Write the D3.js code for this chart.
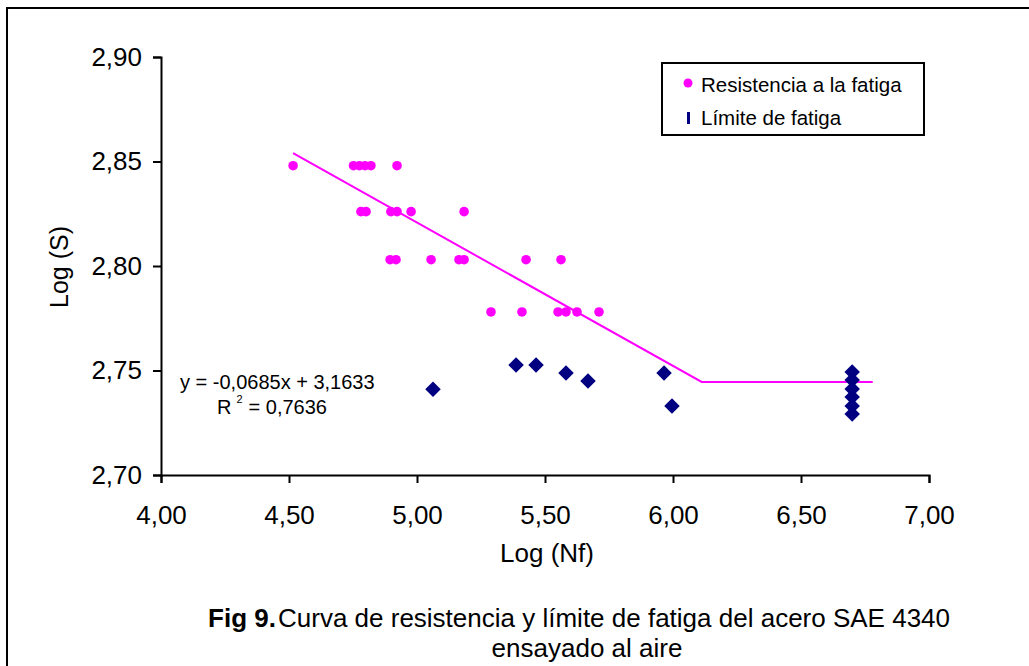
<!DOCTYPE html>
<html lang="es">
<head>
  <meta charset="UTF-8">
  <title>Fig 9</title>
  <script src="https://d3js.org/d3.v7.min.js"></script>
  <style>
    body { margin: 0; background: #fff; }
    text { font-family: Arial, "Liberation Sans", sans-serif; fill: #000; }
  </style>
</head>
<body>
  <script>
    // fatigue strength points (log Nf, log S)
    var resX = [4.516, 4.752, 4.775, 4.797, 4.820, 4.922,
                4.781, 4.801, 4.898, 4.922, 4.977, 5.184,
                4.895, 4.918, 5.055, 5.164, 5.184, 5.426, 5.5625,
                5.289, 5.410, 5.551, 5.582, 5.625, 5.711];
    var resY = [2.848, 2.848, 2.848, 2.848, 2.848, 2.848,
                2.826, 2.826, 2.826, 2.826, 2.826, 2.826,
                2.803, 2.803, 2.803, 2.803, 2.803, 2.803, 2.803,
                2.778, 2.778, 2.778, 2.778, 2.778, 2.778];

    // fatigue limit points
    var limX = [5.0625, 5.387, 5.465, 5.582, 5.668, 5.965, 5.996,
                6.70, 6.70, 6.70, 6.70, 6.70, 6.70];
    var limY = [2.741, 2.7526, 2.7526, 2.7488, 2.745, 2.7488, 2.733,
                2.7493, 2.7455, 2.7411, 2.7373, 2.733, 2.7292];

    // regression line then horizontal limit
    var curveX = [4.516, 6.112, 6.78];
    var curveY = [2.854, 2.7445, 2.7445];

    var xTicks = [4.0, 4.5, 5.0, 5.5, 6.0, 6.5, 7.0];
    var yTicks = [2.70, 2.75, 2.80, 2.85, 2.90];

    var legendLabels = ["Resistencia a la fatiga", "Límite de fatiga"];
    var eqLabel = "y = -0,0685x + 3,1633";
    var r2Label = "= 0,7636";

    var W = 1029, H = 666;
    var fmt = function (d) { return d3.format(".2f")(d).replace(".", ","); };

    var svg = d3.select("body").append("svg")
      .attr("width", W)
      .attr("height", H);

    // outer frame (right and bottom sides fall outside the picture)
    svg.append("rect")
      .attr("x", 7).attr("y", 8)
      .attr("width", 1040).attr("height", 680)
      .attr("fill", "none")
      .attr("stroke", "#000")
      .attr("stroke-width", 2);

    var x = d3.scaleLinear().domain([4, 7]).range([161, 929]);
    var y = d3.scaleLinear().domain([2.70, 2.90]).range([475, 57]);

    var xAxis = svg.append("g")
      .attr("transform", "translate(0,475)")
      .call(d3.axisBottom(x).tickValues(xTicks).tickFormat(fmt).tickSize(8).tickPadding(23));

    var yAxis = svg.append("g")
      .attr("transform", "translate(161,0)")
      .call(d3.axisLeft(y).tickValues(yTicks).tickFormat(fmt).tickSize(8).tickPadding(11));

    [xAxis, yAxis].forEach(function (a) {
      a.select(".domain").attr("stroke", "#000").attr("stroke-width", 2);
      a.selectAll(".tick line").attr("stroke", "#000").attr("stroke-width", 2);
      a.selectAll(".tick text")
        .attr("font-size", "26px")
        .attr("font-family", "Arial, 'Liberation Sans', sans-serif")
        .attr("fill", "#000");
    });

    // axis titles
    svg.append("text")
      .attr("x", 547).attr("y", 562)
      .attr("text-anchor", "middle")
      .attr("font-size", "26px")
      .text("Log (Nf)");

    svg.append("text")
      .attr("transform", "translate(68,267)rotate(-90)")
      .attr("text-anchor", "middle")
      .attr("font-size", "25px")
      .text("Log (S)");

    // trend line
    var line = d3.line()
      .x(function (d) { return x(d[0]); })
      .y(function (d) { return y(d[1]); });

    svg.append("path")
      .datum(d3.zip(curveX, curveY))
      .attr("d", line)
      .attr("fill", "none")
      .attr("stroke", "#FF00FF")
      .attr("stroke-width", 2);

    // fatigue strength dots
    svg.selectAll(".res")
      .data(d3.zip(resX, resY))
      .enter().append("circle")
      .attr("class", "res")
      .attr("cx", function (d) { return x(d[0]); })
      .attr("cy", function (d) { return y(d[1]); })
      .attr("r", 4.8)
      .attr("fill", "#FF00FF");

    // fatigue limit diamonds
    var diamond = d3.symbol().type(d3.symbolSquare).size(120);
    svg.selectAll(".lim")
      .data(d3.zip(limX, limY))
      .enter().append("path")
      .attr("class", "lim")
      .attr("d", diamond)
      .attr("transform", function (d) {
        return "translate(" + x(d[0]) + "," + y(d[1]) + ")rotate(45)";
      })
      .attr("fill", "#000080");

    // equation
    svg.append("text")
      .attr("x", 180).attr("y", 389)
      .attr("font-size", "20px")
      .text(eqLabel);

    var r2 = svg.append("text")
      .attr("x", 217).attr("y", 414)
      .attr("font-size", "20px");
    r2.append("tspan").text("R");
    r2.append("tspan").attr("dx", 5).attr("dy", -11).attr("font-size", "11px").text("2");
    r2.append("tspan").attr("dx", 6).attr("dy", 11).text(r2Label);

    // legend
    var legend = svg.append("g");
    legend.append("rect")
      .attr("x", 662).attr("y", 63)
      .attr("width", 262).attr("height", 72)
      .attr("fill", "#fff")
      .attr("stroke", "#000")
      .attr("stroke-width", 2);

    legend.append("circle")
      .attr("cx", 688).attr("cy", 83)
      .attr("r", 4.5)
      .attr("fill", "#FF00FF");
    legend.append("rect")
      .attr("x", 687).attr("y", 112)
      .attr("width", 3).attr("height", 12)
      .attr("fill", "#000080");

    legend.selectAll(".leg")
      .data(legendLabels)
      .enter().append("text")
      .attr("class", "leg")
      .attr("x", 701)
      .attr("y", function (d, i) { return 92 + i * 33; })
      .attr("font-size", "20.5px")
      .text(function (d) { return d; });

    // caption
    svg.append("text")
      .attr("x", 276).attr("y", 627)
      .attr("text-anchor", "end")
      .attr("font-size", "26px")
      .attr("font-weight", "bold")
      .text("Fig 9.");

    svg.append("text")
      .attr("x", 278).attr("y", 627)
      .attr("font-size", "26px")
      .text("Curva de resistencia y límite de fatiga del acero SAE 4340");

    svg.append("text")
      .attr("x", 587).attr("y", 657)
      .attr("text-anchor", "middle")
      .attr("font-size", "26px")
      .text("ensayado al aire");
  </script>
</body>
</html>
